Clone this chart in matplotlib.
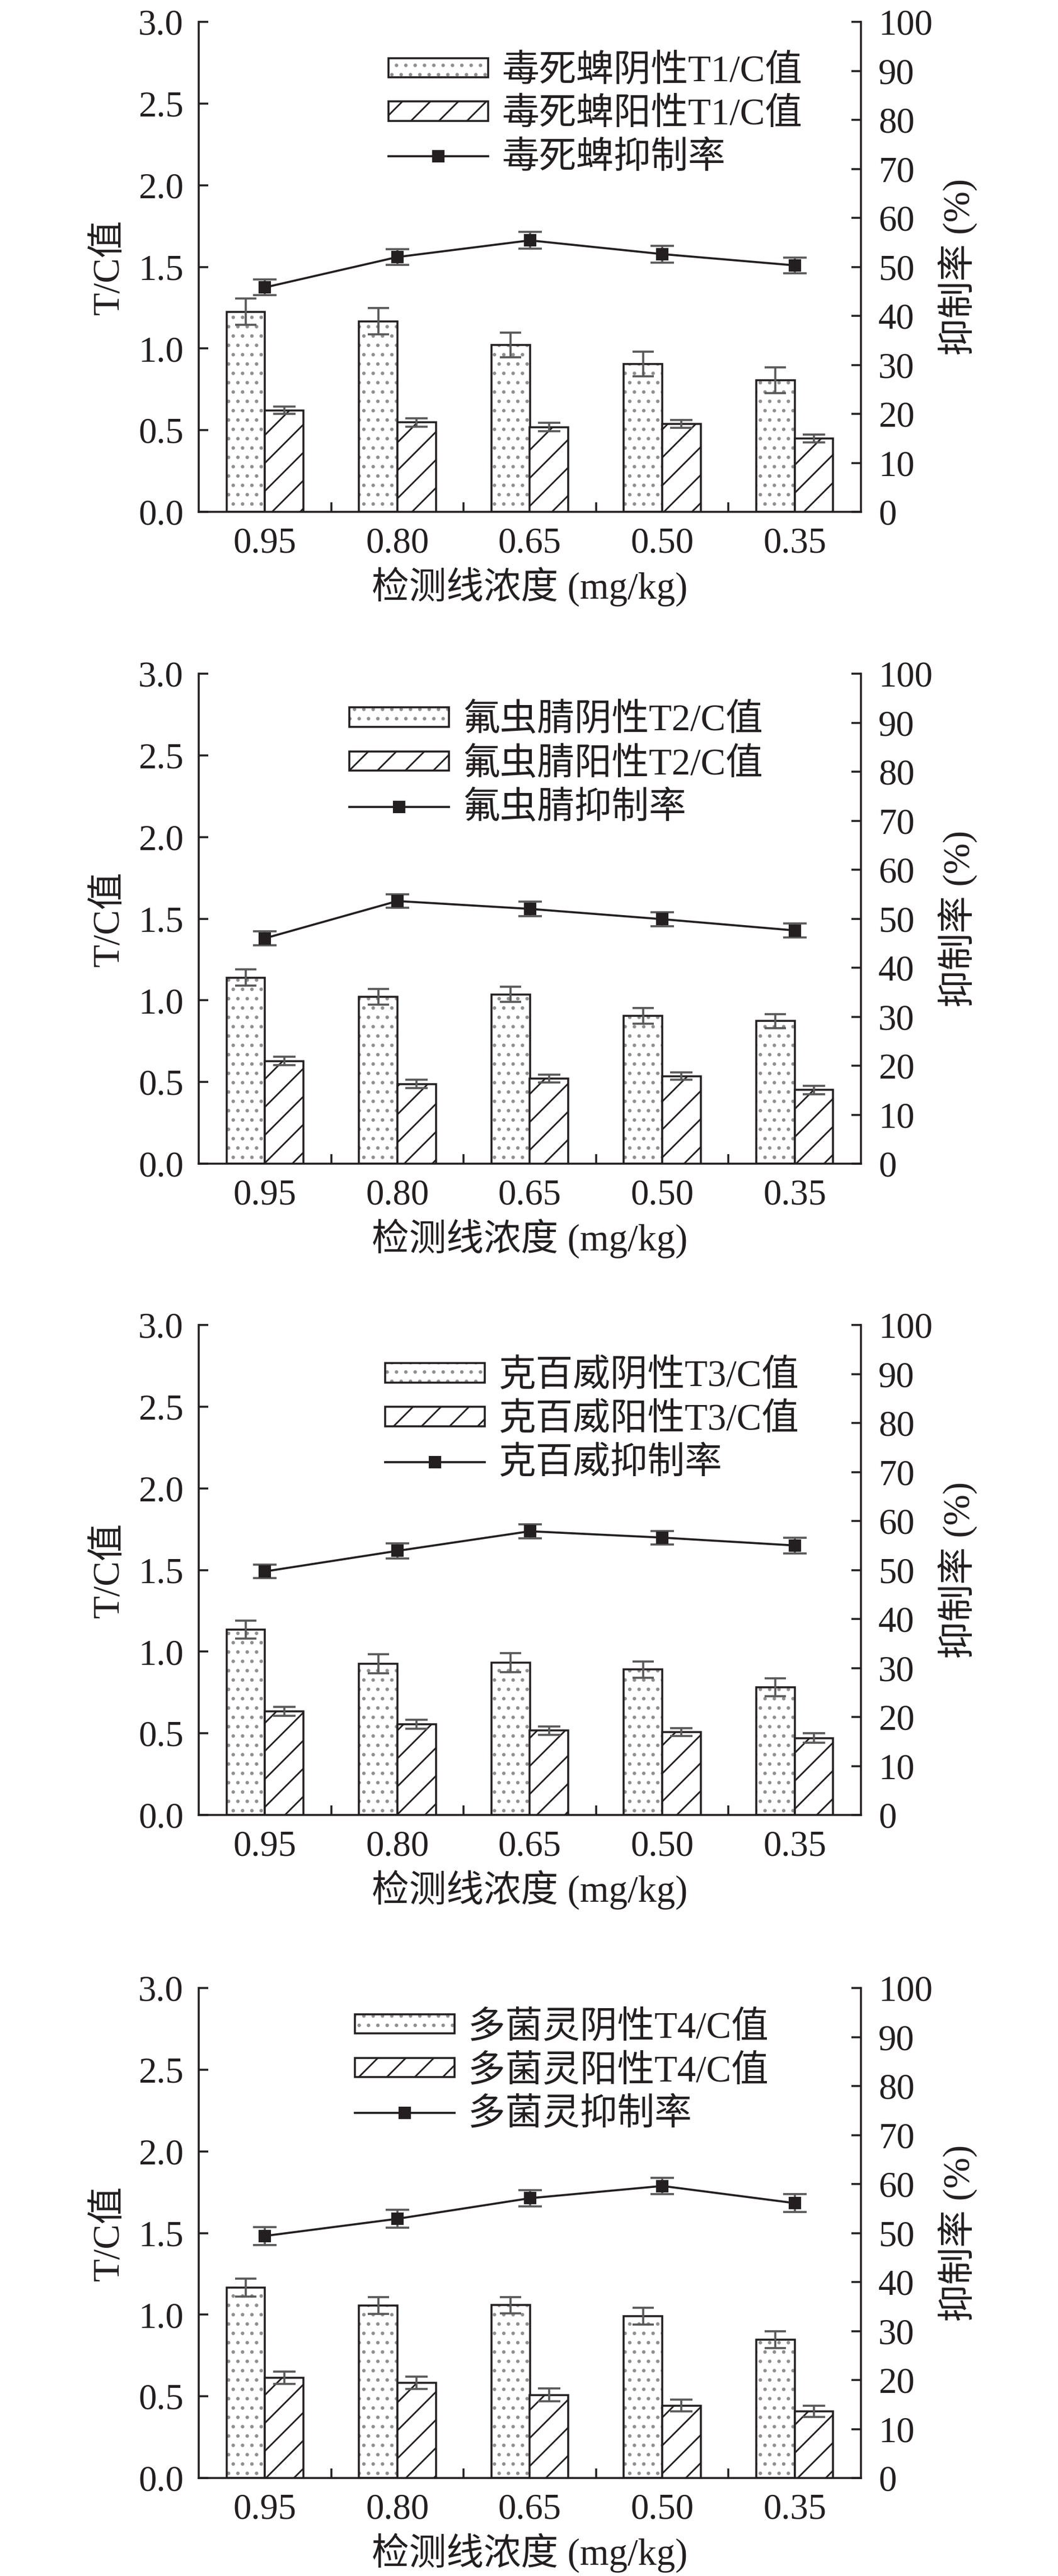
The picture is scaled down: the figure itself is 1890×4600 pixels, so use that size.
import matplotlib
matplotlib.use('Agg')
import matplotlib.pyplot as plt
import numpy as np
from matplotlib.patches import Patch
from matplotlib.lines import Line2D

plt.rcParams['font.family'] = ['Liberation Serif', 'Noto Sans CJK SC']
plt.rcParams['hatch.linewidth'] = 0.7

# ---------------- data ----------------
concentrations = ['0.95', '0.80', '0.65', '0.50', '0.35']
pesticides = ['毒死蜱', '氟虫腈', '克百威', '多菌灵']
test_lines = ['T1', 'T2', 'T3', 'T4']

chlorpyrifos_neg = [1.225, 1.167, 1.022, 0.904, 0.806]
chlorpyrifos_neg_err = [0.080, 0.080, 0.075, 0.075, 0.078]
chlorpyrifos_pos = [0.622, 0.547, 0.519, 0.539, 0.449]
chlorpyrifos_pos_err = [0.023, 0.025, 0.025, 0.025, 0.025]
chlorpyrifos_rate = [45.8, 52.0, 55.4, 52.6, 50.3]
chlorpyrifos_rate_err = [1.6, 1.6, 1.7, 1.7, 1.6]

fipronil_neg = [1.140, 1.022, 1.037, 0.904, 0.873]
fipronil_neg_err = [0.050, 0.048, 0.045, 0.048, 0.043]
fipronil_pos = [0.629, 0.488, 0.521, 0.536, 0.451]
fipronil_pos_err = [0.027, 0.025, 0.025, 0.023, 0.025]
fipronil_rate = [46.0, 53.6, 52.0, 49.9, 47.6]
fipronil_rate_err = [1.4, 1.4, 1.5, 1.4, 1.4]

carbofuran_neg = [1.134, 0.925, 0.933, 0.890, 0.781]
carbofuran_neg_err = [0.055, 0.058, 0.058, 0.050, 0.055]
carbofuran_pos = [0.635, 0.555, 0.517, 0.507, 0.471]
carbofuran_pos_err = [0.028, 0.027, 0.025, 0.025, 0.028]
carbofuran_rate = [49.7, 53.9, 57.9, 56.6, 55.0]
carbofuran_rate_err = [1.4, 1.5, 1.4, 1.4, 1.6]

carbendazim_neg = [1.165, 1.056, 1.059, 0.991, 0.847]
carbendazim_neg_err = [0.055, 0.050, 0.050, 0.050, 0.053]
carbendazim_pos = [0.613, 0.582, 0.509, 0.444, 0.408]
carbendazim_pos_err = [0.038, 0.038, 0.038, 0.037, 0.035]
carbendazim_rate = [49.4, 52.9, 57.1, 59.6, 56.1]
carbendazim_rate_err = [1.8, 1.8, 1.7, 1.7, 1.8]

neg_series = [chlorpyrifos_neg, fipronil_neg, carbofuran_neg, carbendazim_neg]
neg_errs = [chlorpyrifos_neg_err, fipronil_neg_err, carbofuran_neg_err, carbendazim_neg_err]
pos_series = [chlorpyrifos_pos, fipronil_pos, carbofuran_pos, carbendazim_pos]
pos_errs = [chlorpyrifos_pos_err, fipronil_pos_err, carbofuran_pos_err, carbendazim_pos_err]
rate_series = [chlorpyrifos_rate, fipronil_rate, carbofuran_rate, carbendazim_rate]
rate_errs = [chlorpyrifos_rate_err, fipronil_rate_err, carbofuran_rate_err, carbendazim_rate_err]

# ---------------- layout (pixels of a 1890x4600 canvas) ----------------
W, H = 1890, 4600
DPI = 300
fig = plt.figure(figsize=(W / DPI, H / DPI), dpi=DPI)

ax_left_px = 355
ax_width_px = 1183
ax_height_px = 875
ax_bottom_px = [914, 2078, 3241, 4425]
legend_left_px = [694, 624, 688, 634]
legend_top_px = [58, 53, 61, 40]

DARK = '#231f20'
GRAY_ERR = '#5a5a5a'
DOT = '#8f8f8f'
FS = 15.5
LW = 0.85

x = np.arange(len(concentrations))
bw = 0.29

for i in range(4):
    rect = [ax_left_px / W, 1 - ax_bottom_px[i] / H, ax_width_px / W, ax_height_px / H]
    ax = fig.add_axes(rect)
    ax2 = ax.twinx()

    neg = neg_series[i]
    pos = pos_series[i]

    # dotted (negative) bars: gray dots + dark outline
    ax.bar(x - bw / 2, neg, bw, color='white', edgecolor=DOT, hatch='...', linewidth=0, zorder=2)
    ax.bar(x - bw / 2, neg, bw, color='none', edgecolor=DARK, linewidth=LW, zorder=3)
    # hatched (positive) bars
    ax.bar(x + bw / 2, pos, bw, color='white', edgecolor=DARK, hatch='//', linewidth=LW, zorder=3)

    ax.errorbar(x - bw / 2, neg, yerr=neg_errs[i], fmt='none', ecolor=GRAY_ERR,
                elinewidth=0.9, capsize=4.6, capthick=0.9, zorder=4)
    ax.errorbar(x + bw / 2, pos, yerr=pos_errs[i], fmt='none', ecolor=GRAY_ERR,
                elinewidth=0.9, capsize=4.8, capthick=0.9, zorder=4)

    ax2.errorbar(x, rate_series[i], yerr=rate_errs[i], fmt='none', ecolor=GRAY_ERR,
                 elinewidth=0.9, capsize=5.0, capthick=0.9, zorder=4)
    ax2.plot(x, rate_series[i], '-s', color=DARK, lw=0.9, markersize=4.3, zorder=5)

    ax.set_xlim(-0.5, 4.5)
    ax.set_ylim(0, 3.0)
    ax2.set_ylim(0, 100)

    ax.set_yticks(np.arange(0, 3.01, 0.5))
    ax.set_yticklabels(['%.1f' % v for v in np.arange(0, 3.01, 0.5)])
    ax2.set_yticks(np.arange(0, 101, 10))

    ax.set_xticks(x)
    ax.set_xticklabels(concentrations)
    ax.set_xticks(x[:-1] + 0.5, minor=True)

    ax.tick_params(axis='x', which='major', length=0, pad=6.5, labelsize=FS, colors=DARK)
    ax.tick_params(axis='x', which='minor', direction='in', length=4, width=LW, color=DARK)
    ax.tick_params(axis='y', direction='in', length=4, width=LW, pad=6.5, labelsize=FS, colors=DARK)
    ax2.tick_params(axis='y', direction='in', length=4, width=LW, pad=7.5, labelsize=FS, colors=DARK)

    for s in ['top', 'right']:
        ax.spines[s].set_visible(False)
    for s in ['top', 'left', 'bottom']:
        ax2.spines[s].set_visible(False)
    for s in ['left', 'bottom']:
        ax.spines[s].set_linewidth(LW)
        ax.spines[s].set_color(DARK)
    ax2.spines['right'].set_linewidth(LW)
    ax2.spines['right'].set_color(DARK)

    ax.set_xlabel('检测线浓度 (mg/kg)', fontsize=16, color=DARK, labelpad=3)
    ax.set_ylabel('T/C值', fontsize=16, color=DARK, labelpad=5)
    ax2.set_ylabel('抑制率 (%)', fontsize=16, color=DARK, labelpad=2)

    name = pesticides[i]
    tl = test_lines[i]
    h_neg = (Patch(facecolor='white', edgecolor=DOT, hatch='...', linewidth=0),
             Patch(facecolor='none', edgecolor=DARK, linewidth=LW))
    h_pos = Patch(facecolor='white', edgecolor=DARK, hatch='//', linewidth=LW)
    h_rate = Line2D([], [], color=DARK, lw=0.9, marker='s', markersize=4.3)
    lx = (legend_left_px[i] - ax_left_px) / ax_width_px
    ly = 1 - legend_top_px[i] / ax_height_px
    ax2.legend([h_neg, h_pos, h_rate],
               [f'{name}阴性{tl}/C值', f'{name}阳性{tl}/C值', f'{name}抑制率'],
               loc='upper left', bbox_to_anchor=(lx, ly), frameon=False,
               fontsize=16, handlelength=2.67, handleheight=0.42, handletextpad=0.36,
               labelspacing=0.24, borderpad=0, borderaxespad=0, numpoints=1,
               labelcolor=DARK)

fig.savefig('out.png', dpi=DPI, facecolor='white')
